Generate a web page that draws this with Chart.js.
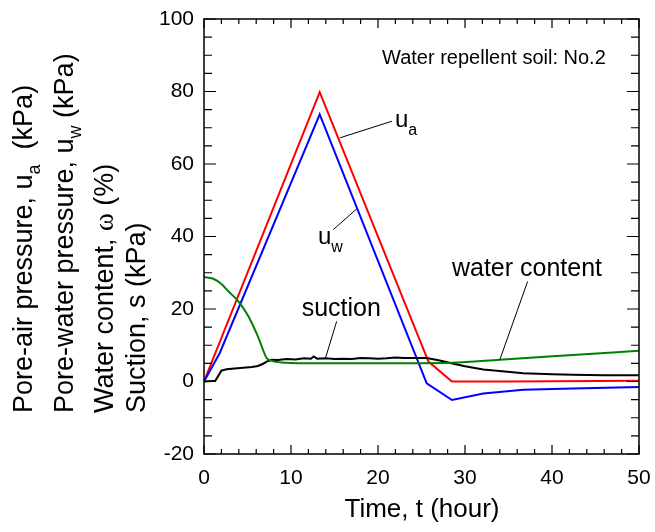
<!DOCTYPE html>
<html>
<head>
<meta charset="utf-8">
<script src="https://cdn.jsdelivr.net/npm/chart.js@4"></script>
<style>
  body { margin: 0; background: #fff; }
  canvas { display: block; }
</style>
</head>
<body>
<canvas id="pressure-chart" width="655" height="532"></canvas>
<script>
// Pore-air pressure u_a (red)
const timeUa = [0, 13.3, 25.8, 28.5, 35, 50];
const ua = [0, 79.8, 5.5, 0, 0, 0.2];

// Pore-water pressure u_w (blue)
const timeUw = [0, 1.8, 13.3, 25.6, 28.5, 32.1, 36.7, 42.4, 50];
const uw = [0, 7.8, 73.7, -0.5, -5.1, -3.3, -2.3, -1.9, -1.5];

// Water content (green)
const timeWc = [0, 1, 2, 2.8, 3.95, 5.1, 6.24, 7.2, 7.8, 8.9, 11.6, 20, 28.5, 34, 42.4, 50];
const wc = [28.8, 28.4, 26.9, 24.9, 22.1, 18, 12.2, 6.5, 5.7, 5.25, 5.05, 5.05, 5.2, 6.0, 7.3, 8.5];

// Suction (black)
const timeS = [0, 1.3, 2.0, 2.6, 3.5, 4.5, 5.5, 6.2, 6.8, 7.3, 7.8, 8.5, 9.5, 10.5, 11.5, 12.3, 12.6, 13,
    14, 15, 16, 17, 18, 19, 20, 21, 22, 23, 24, 25, 25.6, 27.1, 28.3, 30, 32.1, 35.2, 36.7, 40, 42.4, 46, 50];
const suction = [0, 0.2, 3.0, 3.4, 3.6, 3.8, 4.0, 4.3, 4.9, 5.6, 6.0, 5.9, 6.2, 6.1, 6.4, 6.3, 6.9, 6.3,
    6.4, 6.2, 6.3, 6.2, 6.5, 6.4, 6.3, 6.4, 6.6, 6.5, 6.5, 6.5, 6.5, 5.8, 5.1, 4.2, 3.3, 2.6, 2.3, 2.0, 1.85, 1.75, 1.7];

// Axis ticks
const xMin = 0, xMax = 50, xMajor = 10, xMinor = 2;
const yMin = -20, yMax = 100, yMajor = 20, yMinor = 5;

function toPoints(ts, vs) {
    return ts.map((t, i) => ({ x: t, y: vs[i] }));
}

// draw a run of text pieces, some of them subscripts
function drawPieces(ctx, pieces, x, y, size) {
    let cx = x;
    pieces.forEach(p => {
        const sub = p.sub;
        const fs = sub ? Math.round(size * 0.68) : size;
        ctx.font = fs + 'px ' + (p.family || '"Liberation Sans", Arial, sans-serif');
        ctx.fillText(p.text, cx, y + (sub ? size * 0.3 : 0));
        cx += ctx.measureText(p.text).width;
    });
}

const framePlugin = {
    id: 'frame',
    afterDraw(chart) {
        const ctx = chart.ctx;
        const a = chart.chartArea;
        const xs = chart.scales.x, ys = chart.scales.y;
        ctx.save();
        ctx.strokeStyle = '#000';
        ctx.lineWidth = 1.5;
        ctx.strokeRect(a.left, a.top, a.right - a.left, a.bottom - a.top);

        // inward ticks on all sides
        ctx.lineWidth = 1.2;
        ctx.beginPath();
        for (let v = xMin; v <= xMax + 1e-9; v += xMinor) {
            const px = xs.getPixelForValue(v);
            const len = (Math.abs(v % xMajor) < 1e-9) ? 9 : 5;
            ctx.moveTo(px, a.bottom); ctx.lineTo(px, a.bottom - len);
            ctx.moveTo(px, a.top); ctx.lineTo(px, a.top + len);
        }
        for (let v = yMin; v <= yMax + 1e-9; v += yMinor) {
            const py = ys.getPixelForValue(v);
            const len = (Math.abs(v % yMajor) < 1e-9) ? 12 : 8;
            ctx.moveTo(a.left, py); ctx.lineTo(a.left + len, py);
            ctx.moveTo(a.right, py); ctx.lineTo(a.right - len, py);
        }
        ctx.stroke();

        // leader lines
        const leaders = [
            [15.6, 67.2, 21.6, 71.8],
            [14.86, 41.9, 17.55, 47.6],
            [15.25, 16.6, 13.97, 6.5],
            [37.2, 27.6, 34.0, 6.0]
        ];
        ctx.lineWidth = 1;
        ctx.beginPath();
        leaders.forEach(l => {
            ctx.moveTo(xs.getPixelForValue(l[0]), ys.getPixelForValue(l[1]));
            ctx.lineTo(xs.getPixelForValue(l[2]), ys.getPixelForValue(l[3]));
        });
        ctx.stroke();

        // labels
        ctx.fillStyle = '#000';
        ctx.textAlign = 'left';
        ctx.textBaseline = 'alphabetic';
        const X = v => xs.getPixelForValue(v), Y = v => ys.getPixelForValue(v);
        drawPieces(ctx, [{ text: 'Water repellent soil: No.2' }], X(20.46), Y(87.5), 20);
        drawPieces(ctx, [{ text: 'u' }, { text: 'a', sub: true }], X(21.95), Y(70.1), 24);
        drawPieces(ctx, [{ text: 'u' }, { text: 'w', sub: true }], X(13.1), Y(37.8), 24);
        drawPieces(ctx, [{ text: 'suction' }], X(11.23), Y(18.0), 25);
        drawPieces(ctx, [{ text: 'water content' }], X(28.5), Y(29.0), 25);

        // x axis title
        ctx.textAlign = 'center';
        ctx.font = '26px "Liberation Sans", Arial, sans-serif';
        ctx.fillText('Time, t (hour)', 422, 517);

        // y axis title, four rotated lines
        ctx.textAlign = 'left';
        const yLines = [
            [32, [{ text: 'Pore-air pressure, u' }, { text: 'a', sub: true }, { text: '  (kPa)' }]],
            [73, [{ text: 'Pore-water pressure, u' }, { text: 'w', sub: true }, { text: ' (kPa)' }]],
            [113, [{ text: 'Water content, ' }, { text: '\u03c9', family: '"Liberation Serif", "DejaVu Serif", serif' }, { text: ' (%)' }]],
            [145, [{ text: 'Suction, s (kPa)' }]]
        ];
        yLines.forEach(line => {
            ctx.save();
            ctx.translate(line[0], 413);
            ctx.rotate(-Math.PI / 2);
            drawPieces(ctx, line[1], 0, 0, 27);
            ctx.restore();
        });
        ctx.restore();
    }
};

const lineStyle = {
    pointRadius: 0,
    borderWidth: 2,
    fill: false
};

const chartData = {
    datasets: [
        Object.assign({ data: toPoints(timeWc, wc), borderColor: '#008000', cubicInterpolationMode: 'monotone' }, lineStyle),
        Object.assign({ data: toPoints(timeS, suction), borderColor: '#000000' }, lineStyle),
        Object.assign({ data: toPoints(timeUw, uw), borderColor: '#0000ff' }, lineStyle),
        Object.assign({ data: toPoints(timeUa, ua), borderColor: '#ff0000' }, lineStyle)
    ]
};

const chartOptions = {
    responsive: false,
    animation: false,
    layout: { padding: { left: 0, right: 16, top: 19, bottom: 0 } },
    plugins: {
        legend: { display: false },
        tooltip: { enabled: false }
    },
    scales: {
        x: {
            type: 'linear',
            min: xMin,
            max: xMax,
            grid: { display: false, drawTicks: false },
            border: { display: false },
            ticks: {
                stepSize: xMajor,
                color: '#000',
                padding: 12,
                maxRotation: 0,
                font: { size: 21, family: '"Liberation Sans", Arial, sans-serif' }
            },
            afterFit(scale) {
                scale.height = 78;
                scale.paddingLeft = 0;
                scale.paddingRight = 0;
            }
        },
        y: {
            min: yMin,
            max: yMax,
            grid: { display: false, drawTicks: false },
            border: { display: false },
            ticks: {
                stepSize: yMajor,
                color: '#000',
                padding: 10,
                font: { size: 21, family: '"Liberation Sans", Arial, sans-serif' }
            },
            afterFit(scale) {
                scale.width = 204;
                scale.paddingTop = 0;
                scale.paddingBottom = 0;
            }
        }
    }
};

let pressureChart = new Chart(document.getElementById('pressure-chart'), {
    type: 'line',
    data: chartData,
    options: chartOptions,
    plugins: [framePlugin]
});
</script>
</body>
</html>
